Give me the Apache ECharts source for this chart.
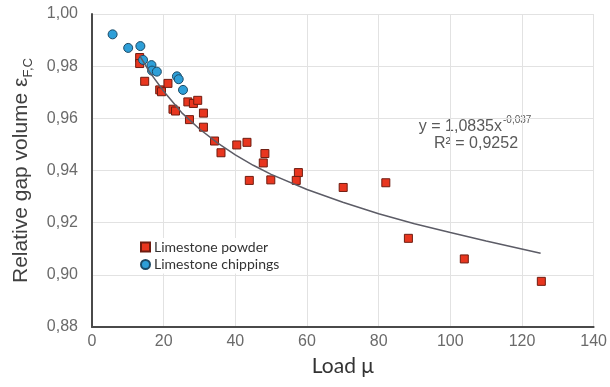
<!DOCTYPE html>
<html>
<head>
<meta charset="utf-8">
<script src="https://cdn.jsdelivr.net/npm/echarts@6/dist/echarts.min.js"></script>
<style>
html,body{margin:0;padding:0;background:#fff;}
#c{width:610px;height:387px;}
</style>
</head>
<body>
<div id="c"></div>
<script>
// Limestone powder (red squares)
const powderLoad = [13.3, 13.3, 14.7, 21.2, 18.9, 19.4, 26.75, 28.3, 29.5, 22.6, 23.3, 31.1, 27.2, 31.1, 34.2, 36.0, 40.4, 43.25, 48.25, 47.8, 43.9, 49.9, 57.6, 57.0, 70.1, 82.0, 88.3, 103.9, 125.4];
const powderGap  = [0.9833, 0.9810, 0.9742, 0.9734, 0.9709, 0.9702, 0.9663, 0.9657, 0.9669, 0.9635, 0.9628, 0.9620, 0.9595, 0.9566, 0.9513, 0.9468, 0.9498, 0.9508, 0.9465, 0.9429, 0.9362, 0.9364, 0.9392, 0.9362, 0.9335, 0.9353, 0.9140, 0.9061, 0.8975];
// Limestone chippings (blue circles)
const chipLoad = [5.75, 10.1, 13.5, 14.25, 16.6, 16.75, 18.1, 23.7, 24.2, 25.4];
const chipGap  = [0.9922, 0.9870, 0.9877, 0.9824, 0.9804, 0.9783, 0.9779, 0.9761, 0.9750, 0.9709];
// Power trendline, points
const trendLoad = [13.3, 16, 20, 25, 30, 35, 40, 45, 50, 60, 70, 80, 90, 100, 110, 125.2];
const trendGap  = [0.9840, 0.9779, 0.9704, 0.9622, 0.9559, 0.9506, 0.9460, 0.9420, 0.9385, 0.9327, 0.9278, 0.9234, 0.9196, 0.9162, 0.9130, 0.9083];
// Axes
const xTicks = [0, 20, 40, 60, 80, 100, 120, 140];
const yTicks = [0.88, 0.90, 0.92, 0.94, 0.96, 0.98, 1.00];
const seriesNames = ['Limestone powder', 'Limestone chippings'];
const equationMain = 'y = 1,0835x';
const equationExp = '-0,037';
const equationR2 = 'R² = 0,9252';

const zip = (a, b) => a.map((v, i) => [v, b[i]]);
const eqFont = {fontFamily: 'Liberation Sans', fill: '#595959'};

const chart = echarts.init(document.getElementById('c'), null, {renderer: 'canvas'});
chart.setOption({
  animation: false,
  backgroundColor: '#ffffff',
  grid: {left: 92, right: 16, top: 14, bottom: 60},
  xAxis: {
    type: 'value',
    min: xTicks[0], max: xTicks[xTicks.length - 1], interval: 20,
    name: 'Load μ',
    nameLocation: 'middle',
    nameGap: 29,
    nameTextStyle: {fontFamily: 'Lato', fontSize: 21, color: '#333'},
    axisLine: {lineStyle: {color: '#4a4a4a', width: 2}},
    axisTick: {show: false},
    axisLabel: {fontFamily: 'Liberation Sans', fontSize: 16, color: '#6a6a6a', margin: 7},
    splitLine: {lineStyle: {color: '#e2e2e2', width: 1}}
  },
  yAxis: {
    type: 'value',
    min: yTicks[0], max: yTicks[yTicks.length - 1], interval: 0.02,
    name: '{m|Relative gap volume ε}{sub|F,C}',
    nameLocation: 'middle',
    nameGap: 57,
    nameTextStyle: {
      rich: {
        m: {fontFamily: 'Liberation Sans', fontSize: 21, color: '#404040', lineHeight: 24, verticalAlign: 'top'},
        sub: {fontFamily: 'Liberation Sans', fontSize: 13, color: '#404040', lineHeight: 15, verticalAlign: 'bottom'}
      }
    },
    axisLine: {show: true, lineStyle: {color: '#4a4a4a', width: 2}},
    axisTick: {show: false},
    axisLabel: {
      fontFamily: 'Liberation Sans', fontSize: 16, color: '#6a6a6a', margin: 14,
      formatter: v => v.toFixed(2).replace('.', ',')
    },
    splitLine: {lineStyle: {color: '#e2e2e2', width: 1}}
  },
  legend: {
    orient: 'vertical',
    left: 136, top: 238,
    itemWidth: 9, itemHeight: 9, itemGap: 3.5,
    backgroundColor: '#ffffff',
    padding: [2, 4],
    textStyle: {fontFamily: 'Lato', fontSize: 14, color: '#333', padding: [0, 0, 0, -1]},
    data: [
      {name: seriesNames[0], icon: 'rect'},
      {name: seriesNames[1], icon: 'circle'}
    ]
  },
  graphic: [
    {type: 'text', x: 502, y: 127, silent: true,
     style: Object.assign({text: equationMain, fontSize: 16, textAlign: 'right', textVerticalAlign: 'middle'}, eqFont)},
    {type: 'text', x: 503, y: 120, silent: true,
     style: Object.assign({text: equationExp, fontSize: 10, textAlign: 'left', textVerticalAlign: 'middle'}, eqFont)},
    {type: 'text', x: 476, y: 144, silent: true,
     style: Object.assign({text: equationR2, fontSize: 16, textAlign: 'center', textVerticalAlign: 'middle'}, eqFont)}
  ],
  series: [
    {
      name: seriesNames[0], type: 'scatter', symbol: 'rect', symbolSize: 8,
      itemStyle: {color: '#e8361f', borderColor: '#6e1c10', borderWidth: 1, opacity: 1},
      data: zip(powderLoad, powderGap), z: 3
    },
    {
      name: seriesNames[1], type: 'scatter', symbol: 'circle', symbolSize: 9,
      itemStyle: {color: '#2e9fd8', borderColor: '#1c4a66', borderWidth: 1, opacity: 1},
      data: zip(chipLoad, chipGap), z: 4
    },
    {
      name: 'Trend', type: 'line', smooth: false, showSymbol: false, symbol: 'none',
      lineStyle: {color: '#5c5c66', width: 1.5},
      data: zip(trendLoad, trendGap), z: 5, silent: true
    }
  ]
});
</script>
</body>
</html>
